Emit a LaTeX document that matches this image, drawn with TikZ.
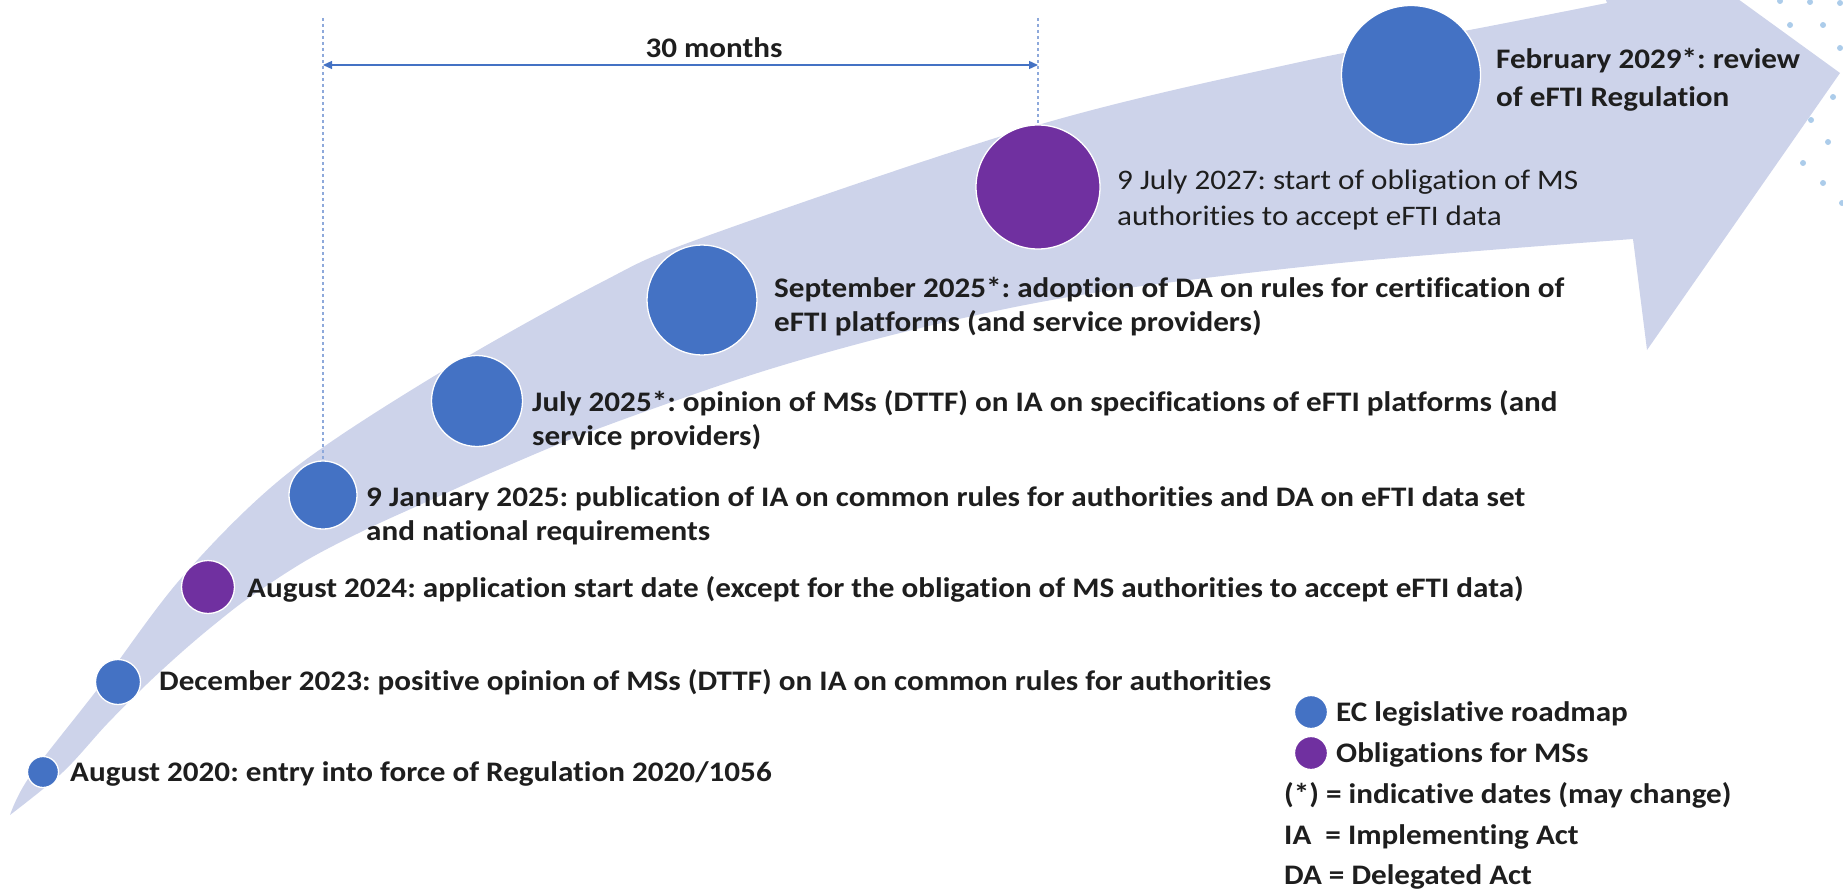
\documentclass[tikz,border=0pt]{standalone}
\usepackage{fontspec}
\setmainfont{Carlito}[FakeStretch=1.1,Ligatures=NoCommon]
\usetikzlibrary{arrows.meta}
\definecolor{bandcol}{HTML}{CDD3EA}
\definecolor{ecblue}{HTML}{4472C4}
\definecolor{mspurple}{HTML}{7030A0}
\definecolor{dotcol}{HTML}{9DC3E6}
\definecolor{guidecol}{HTML}{8EA9DB}
\definecolor{txtcol}{HTML}{1E1E1E}
\frenchspacing
\begin{document}
\begin{tikzpicture}[x=1pt,y=-1pt,
  bdot/.style={circle,fill=ecblue,draw=white,line width=1.3pt,inner sep=0pt,minimum size=#1},
  pdot/.style={circle,fill=mspurple,draw=white,line width=1.3pt,inner sep=0pt,minimum size=#1},
  lbl/.style={anchor=base west,inner sep=0pt,text=txtcol,font=\bfseries\fontsize{28.3}{34}\selectfont},
  lblwide/.style={lbl,font=\bfseries\fontsize{28.3}{37}\selectfont},
  lblreg/.style={lbl,font=\fontsize{28.3}{36}\selectfont},
  guide/.style={draw=guidecol,line width=1.1pt,dash pattern=on 3pt off 3pt},
  deco/.style={fill=dotcol,opacity=0.85},
  span/.style={draw=ecblue,line width=1.3pt,{Triangle[length=9pt,width=8pt]}-{Triangle[length=9pt,width=8pt]}},
]
\useasboundingbox (0,0) rectangle (1843,891);
\clip (0,0) rectangle (1843,891);

% decorative dots
\foreach \p in {(1780,1),(1810,2),(1840,3),(1790,25),(1823,25),(1840,48),(1833,97),(1811,120),(1828,142),(1803,163),(1823,183),(1842,203)}
  \fill[deco] \p circle (3);

% curved arrow band
\fill[bandcol] plot[smooth,tension=0.55] coordinates {(10,815) (30,776) (100,686) (183,576) (287,474) (431,378) (600,283) (707,236) (1038,125) (1300,62) (1480,28) (1607,3)}
  -- (1560,-130) -- (1840,73) -- (1647,350) -- (1633,239)
  -- plot[smooth,tension=0.55] coordinates {(1633,239) (1350,262) (1100,292) (933,325) (767,370) (600,428) (500,469) (433,499) (367,529) (307,560) (250,597) (215,624) (183,651) (147,684) (107,724) (63,772) (10,815)}
  -- cycle;

% milestones
\node[bdot=31pt] (c1) at (43,772) {};
\node[bdot=45pt] (c2) at (118,682) {};
\node[pdot=53pt] (c3) at (208,587) {};
\node[bdot=68pt] (c4) at (323,495) {};
\node[bdot=91pt] (c5) at (477,401) {};
\node[bdot=110pt] (c6) at (702,300) {};
\node[pdot=124pt] (c7) at (1038,187) {};
\node[bdot=139pt] (c8) at (1411,75) {};

\node[lbl] (t1) at (70,781) {August 2020: entry into force of Regulation 2020/1056};
\node[lbl] (t2) at (159,690) {December 2023: positive opinion of MSs (DTTF) on IA on common rules for authorities};
\node[lbl] (t3) at (247,597) {August 2024: application start date (except for the obligation of MS authorities to accept eFTI data)};
\node[lbl] (t4) at (366,506) {\begin{tabular}[t]{@{}l@{}}9 January 2025: publication of IA on common rules for authorities and DA on eFTI data set\\and national requirements\end{tabular}};
\node[lbl] (t5) at (532,411) {\begin{tabular}[t]{@{}l@{}}July 2025*: opinion of MSs (DTTF) on IA on specifications of eFTI platforms (and\\service providers)\end{tabular}};
\node[lbl] (t6) at (774,297) {\begin{tabular}[t]{@{}l@{}}September 2025*: adoption of DA on rules for certification of\\eFTI platforms (and service providers)\end{tabular}};
\node[lblreg] (t7) at (1117,189) {\begin{tabular}[t]{@{}l@{}}9 July 2027: start of obligation of MS\\authorities to accept eFTI data\end{tabular}};
\node[lblwide] (t8) at (1496,69) {\begin{tabular}[t]{@{}l@{}}February 2029*: review\\of eFTI Regulation\end{tabular}};

% 30 months span
\coordinate (g1) at (323,18);
\coordinate (g2) at (1038,18);
\coordinate (m1) at (323,65);
\coordinate (m2) at (1038,65);
\draw[guide] (g1) -- (c4.north);
\draw[guide] (g2) -- (c7.north);
\draw[span] (m1) -- (m2);
\node[lbl,anchor=base] (months) at (714,57) {30 months};

% legend
\node[bdot=33pt] (l1) at (1311,712) {};
\node[lbl] (lt1) at (1336,721) {EC legislative roadmap};
\node[pdot=33pt] (l2) at (1311,753) {};
\node[lbl] (lt2) at (1336,762) {Obligations for MSs};
\node[lbl] (lt3) at (1284,803) {(*) = indicative dates (may change)};
\node[lbl] (lt4) at (1284,844) {IA~ = Implementing Act};
\node[lbl] (lt5) at (1284,884) {DA = Delegated Act};
\end{tikzpicture}
\end{document}
